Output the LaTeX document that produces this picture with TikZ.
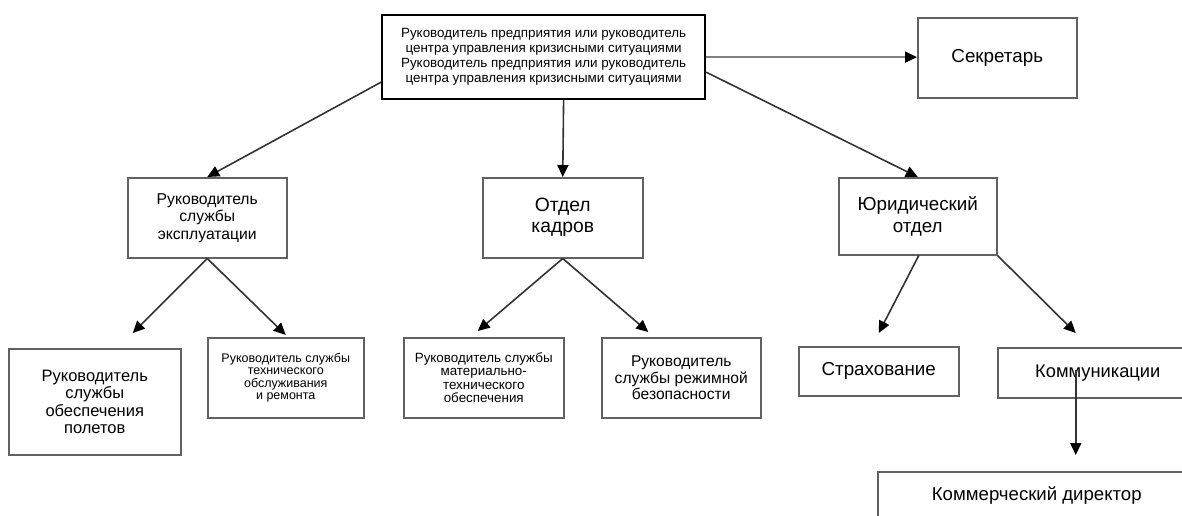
\documentclass[tikz,border=0pt]{standalone}
\usepackage{fontspec}
\setmainfont{Liberation Sans}
\usetikzlibrary{arrows.meta,calc}
\begin{document}
\begin{tikzpicture}[x=1pt,y=-1pt,
  box/.style={draw=black!62,line width=1.5pt,anchor=north west,inner sep=0pt,align=center,fill=white},
  topbox/.style={draw=black,line width=2.2pt,anchor=north west,inner sep=0pt,align=center,fill=white},
  arr/.style={draw=black!80,line width=1.6pt,-{Triangle[length=12pt,width=11pt,color=black]}},
  grayarr/.style={draw=black!50,line width=1.6pt,-{Triangle[length=12pt,width=11pt,color=black]}}]
\useasboundingbox (0,0) rectangle (1182,515);
% nodes
\node[topbox,minimum width=323pt,minimum height=84pt,font=\fontsize{13.4}{15}\selectfont] (top) at (381,14)
  {Руководитель предприятия или руководитель\\центра управления кризисными ситуациями\\Руководитель предприятия или руководитель\\центра управления кризисными ситуациями};
\node[box,minimum width=159pt,minimum height=80pt,font=\fontsize{18.8}{21}\selectfont] (secr) at (917,17) {Секретарь};
\node[box,minimum width=159pt,minimum height=80pt,font=\fontsize{15.7}{17.5}\selectfont] (eksp) at (127,177) {Руководитель\\службы\\эксплуатации};
\node[box,minimum width=160pt,minimum height=80pt,font=\fontsize{19.3}{21}\selectfont] (kadry) at (482,177) {Отдел\\кадров};
\node[box,minimum width=158pt,minimum height=77pt,font=\fontsize{18.8}{21.5}\selectfont] (yur) at (838,177) {Юридический\\отдел};
\node[box,minimum width=172pt,minimum height=106pt,font=\fontsize{16.5}{17.5}\selectfont] (polet) at (8,348) {Руководитель\\службы\\обеспечения\\полетов};
\node[box,minimum width=156pt,minimum height=80pt,font=\fontsize{12.5}{12.3}\selectfont] (tech) at (207,337) {Руководитель службы\\технического\\обслуживания\\и ремонта};
\node[box,minimum width=160pt,minimum height=80pt,font=\fontsize{13.4}{13.5}\selectfont] (mat) at (403,337) {Руководитель службы\\материально-\\технического\\обеспечения};
\node[box,minimum width=159pt,minimum height=80pt,font=\fontsize{15.6}{16.7}\selectfont] (rezh) at (601,337) {Руководитель\\службы режимной\\безопасности};
\node[box,minimum width=160pt,minimum height=49pt,font=\fontsize{18.8}{21}\selectfont] (strah) at (798,346) {Страхование};
\node[box,minimum width=200pt,minimum height=50pt,font=\fontsize{18.3}{21}\selectfont] (kom) at (997,347) {Коммуникации};
\node[box,minimum width=318pt,minimum height=47pt,font=\fontsize{18.6}{21}\selectfont] (dir) at (877,471) {Коммерческий директор};
% connectors
\draw[grayarr] (top.east) -- (top.east -| secr.west);
\draw[arr] ([yshift=18pt]top.south west) -- (eksp.north);
\draw[arr] ([xshift=20pt]top.south) -- (kadry.north);
\draw[arr] ([yshift=28pt]top.south east) -- (yur.north);
\draw[arr] (eksp.south) -- ([xshift=38pt,yshift=15pt]polet.north);
\draw[arr] (eksp.south) -- ([yshift=2pt]tech.north);
\draw[arr] (kadry.south) -- ([xshift=-6pt,yshift=6pt]mat.north);
\draw[arr] (kadry.south) -- ([xshift=-33pt,yshift=5pt]rezh.north);
\draw[arr] ([xshift=1pt]yur.south) -- ([yshift=13pt]strah.north);
\draw[arr] (yur.south east) -- ([xshift=-22pt,yshift=14pt]kom.north);
\draw[arr] ([xshift=-22pt,yshift=-23pt]kom.north) -- ([xshift=39pt,yshift=16pt]dir.north);
\end{tikzpicture}
\end{document}
